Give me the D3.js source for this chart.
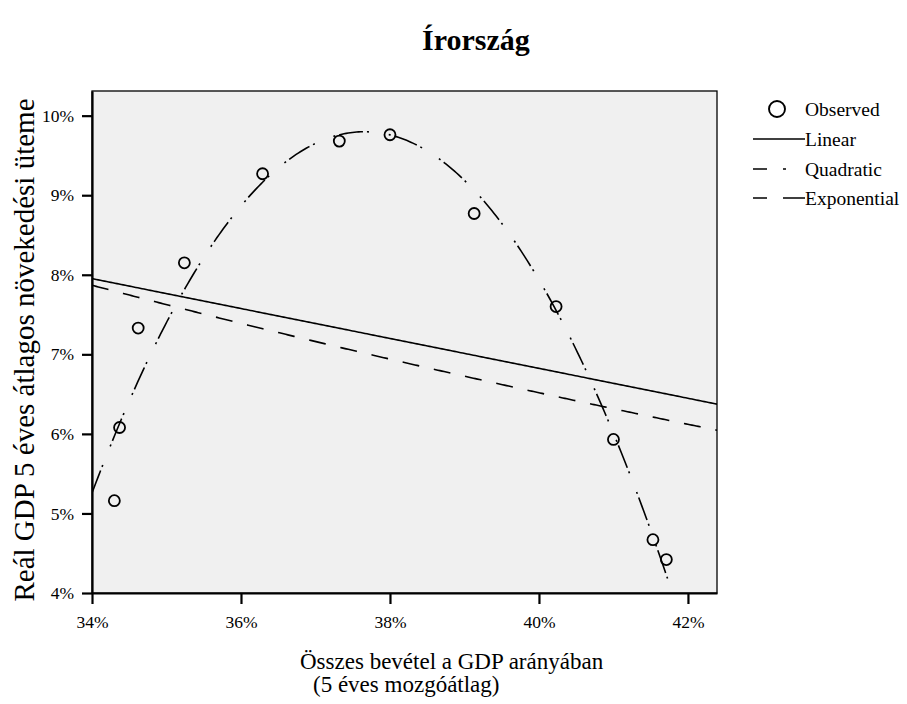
<!DOCTYPE html>
<html>
<head>
<meta charset="utf-8">
<script src="https://cdn.jsdelivr.net/npm/d3@7"></script>
<style>
  body { margin: 0; background: #fff; }
  svg text { font-family: "Liberation Serif", "Times New Roman", serif; fill: #000; }
</style>
</head>
<body>
<svg id="chart" width="907" height="704"></svg>
<script>
// observed points (percent)
var revenue = [34.30, 34.37, 34.62, 35.24, 36.29, 37.32, 38.00, 39.13, 40.23, 41.00, 41.53, 41.71];
var growth  = [5.16, 6.08, 7.33, 8.15, 9.27, 9.68, 9.76, 8.77, 7.60, 5.93, 4.67, 4.42];

var xTicks = [34, 36, 38, 40, 42];
var yTicks = [4, 5, 6, 7, 8, 9, 10];
var legendLabels = ["Observed", "Linear", "Quadratic", "Exponential"];

var svg = d3.select("#chart");
var pLeft = 92, pRight = 717, pTop = 91, pBottom = 593;

var x = d3.scaleLinear().domain([34, 42.39]).range([pLeft, pRight]);
var y = d3.scaleLinear().domain([4, 10.31]).range([pBottom, pTop]);

// least squares fits
var n = revenue.length;
function linFit(xs, ys) {
  var mx = d3.mean(xs), my = d3.mean(ys), sxy = 0, sxx = 0;
  for (var i = 0; i < xs.length; i++) {
    sxy += (xs[i] - mx) * (ys[i] - my);
    sxx += (xs[i] - mx) * (xs[i] - mx);
  }
  var b = sxy / sxx;
  return [my - b * mx, b];
}
var lin = linFit(revenue, growth);
var expo = linFit(revenue, growth.map(Math.log));

// quadratic: solve normal equations on centred x
var cx = d3.mean(revenue);
var S = [0, 0, 0, 0, 0], T = [0, 0, 0];
for (var i = 0; i < n; i++) {
  var u = revenue[i] - cx;
  for (var k = 0; k < 5; k++) S[k] += Math.pow(u, k);
  for (var k = 0; k < 3; k++) T[k] += growth[i] * Math.pow(u, k);
}
function solve3(A, b) {
  A = A.map(function(r, i) { return r.concat([b[i]]); });
  for (var c = 0; c < 3; c++) {
    for (var r = c + 1; r < 3; r++) {
      var f = A[r][c] / A[c][c];
      for (var j = c; j < 4; j++) A[r][j] -= f * A[c][j];
    }
  }
  var out = [0, 0, 0];
  for (var r = 2; r >= 0; r--) {
    var s = A[r][3];
    for (var j = r + 1; j < 3; j++) s -= A[r][j] * out[j];
    out[r] = s / A[r][r];
  }
  return out;
}
var quad = solve3([[S[0], S[1], S[2]], [S[1], S[2], S[3]], [S[2], S[3], S[4]]], T);

var xs = d3.range(0, 301).map(function(i) { return 34 + (42.39 - 34) * i / 300; });
var line = d3.line().x(function(d) { return x(d[0]); }).y(function(d) { return y(d[1]); });

// title
svg.append("text").attr("x", 476).attr("y", 50).attr("text-anchor", "middle")
  .style("font-size", "30px").style("font-weight", "bold").text("Írország");

// plot area
svg.append("defs").append("clipPath").attr("id", "clip")
  .append("rect").attr("x", pLeft).attr("y", pTop).attr("width", pRight - pLeft).attr("height", pBottom - pTop);
svg.append("rect").attr("x", pLeft).attr("y", pTop).attr("width", pRight - pLeft).attr("height", pBottom - pTop)
  .attr("fill", "#f0f0f0").attr("stroke", "#000").attr("stroke-width", 1.3);

var g = svg.append("g").attr("clip-path", "url(#clip)");

g.append("path").datum(xs.map(function(v) { return [v, lin[0] + lin[1] * v]; }))
  .attr("d", line).attr("fill", "none").attr("stroke", "#000").attr("stroke-width", 1.6);
g.append("path").datum(xs.map(function(v) { return [v, Math.exp(expo[0] + expo[1] * v)]; }))
  .attr("d", line).attr("fill", "none").attr("stroke", "#000").attr("stroke-width", 1.6)
  .attr("stroke-dasharray", "17,15");
g.append("path").datum(xs.map(function(v) { var u = v - cx; return [v, quad[0] + quad[1] * u + quad[2] * u * u]; }))
  .attr("d", line).attr("fill", "none").attr("stroke", "#000").attr("stroke-width", 1.6)
  .attr("stroke-dasharray", "24,4,2,20,2,4");

svg.append("g").selectAll("circle").data(revenue).enter().append("circle")
  .attr("cx", function(d) { return x(d); })
  .attr("cy", function(d, i) { return y(growth[i]); })
  .attr("r", 5.5).attr("fill", "none").attr("stroke", "#000").attr("stroke-width", 1.8);

// axes
var xAxis = svg.append("g").attr("transform", "translate(0," + pBottom + ")")
  .call(d3.axisBottom(x).tickValues(xTicks).tickSize(11).tickSizeOuter(0).tickPadding(12)
    .tickFormat(function(d) { return d + "%"; }));
var yAxis = svg.append("g").attr("transform", "translate(" + pLeft + ",0)")
  .call(d3.axisLeft(y).tickValues(yTicks).tickSize(10).tickSizeOuter(0).tickPadding(8)
    .tickFormat(function(d) { return d + "%"; }));
[xAxis, yAxis].forEach(function(a) {
  a.select(".domain").attr("stroke", "#000").attr("stroke-width", 2.2);
  a.selectAll(".tick line").attr("stroke", "#000").attr("stroke-width", 2.2);
  a.selectAll(".tick text").style("font-size", "17.5px").attr("fill", "#000");
});

// axis titles
svg.append("text").attr("transform", "translate(34,350) rotate(-90)").attr("text-anchor", "middle")
  .style("font-size", "29px").text("Reál GDP 5 éves átlagos növekedési üteme");
svg.append("text").attr("x", 300).attr("y", 669).style("font-size", "23px")
  .text("Összes bevétel a GDP arányában");
svg.append("text").attr("x", 313).attr("y", 692).style("font-size", "23px")
  .text("(5 éves mozgóátlag)");

// legend
var lg = svg.append("g");
var ly = [109, 139, 169, 198];
lg.append("circle").attr("cx", 777).attr("cy", ly[0]).attr("r", 8)
  .attr("fill", "none").attr("stroke", "#000").attr("stroke-width", 1.9);
lg.append("line").attr("x1", 753).attr("x2", 805).attr("y1", ly[1]).attr("y2", ly[1])
  .attr("stroke", "#000").attr("stroke-width", 1.6);
lg.append("line").attr("x1", 753).attr("x2", 786).attr("y1", ly[2]).attr("y2", ly[2])
  .attr("stroke", "#000").attr("stroke-width", 1.6).attr("stroke-dasharray", "14,16,3,10");
lg.append("line").attr("x1", 753).attr("x2", 805).attr("y1", ly[3]).attr("y2", ly[3])
  .attr("stroke", "#000").attr("stroke-width", 1.6).attr("stroke-dasharray", "14,16,22");
lg.selectAll("text.lab").data(legendLabels).enter().append("text")
  .attr("x", 805).attr("y", function(d, i) { return ly[i] + 7; })
  .style("font-size", "19.5px").text(function(d) { return d; });
</script>
</body>
</html>
